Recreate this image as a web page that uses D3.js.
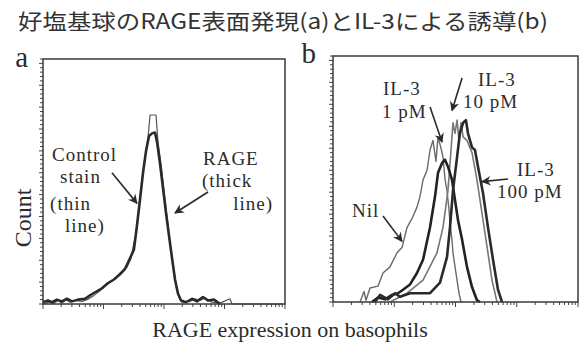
<!DOCTYPE html>
<html>
<head>
<meta charset="utf-8">
<script src="https://cdn.jsdelivr.net/npm/d3@7"></script>
<style>
  body { margin: 0; background: #fff; }
  svg { display: block; }
  .serif { font-family: "Liberation Serif", "DejaVu Serif", serif; fill: #2b2b2b; }
</style>
</head>
<body>
<svg id="chart" width="579" height="347"></svg>
<script>
// histogram data, x = fluorescence intensity (log), y = count
var ctrlA = [[1.08,0],[1.30,3],[1.46,0],[1.77,4],[2.06,1],[2.40,5],[2.79,2],[3.38,4],[4.41,3],[5.34,5],
  [6.71,9],[8.76,15],[11.0,22],[14.4,27],[18.7,35],[24.4,42],[28.5,52],[31.8,70],[34.3,78],[38.6,110],
  [43.3,140],[48.5,168],[54.4,190],[58.8,216],[73.8,216],[79.6,185],[89.3,160],[100,130],[112,100],
  [126,70],[141,45],[158,22],[177,8],[199,2],[270,3],[325,6],[394,4],[474,7],[619,2],[843,1],[1230,6],[1330,0],[9000,0]];
var rageA = [[1,2],[1.21,4],[1.41,2],[1.70,5],[2.06,3],[2.49,6],[3.01,3],[3.79,5],[4.95,6],[5.99,10],
  [7.53,14],[9.43,18],[11.9,24],[14.9,28],[18.7,34],[22.6,40],[27.3,52],[31.8,62],[35.8,90],[40.2,120],
  [45.0,150],[50.5,175],[56.6,192],[63.4,195],[71.1,196],[76.8,185],[86.1,160],[96.5,132],[108,104],
  [121,78],[136,52],[152,28],[170,12],[191,4],[231,2],[290,6],[351,3],[441,8],[532,4],[670,5],[843,0]];

var nilB = [[2.76,0],[3.21,12],[3.46,2],[4.02,16],[5.43,18],[6.55,33],[8.52,40],[11.1,56],[13.4,62],
  [16.2,85],[19.5,95],[23.5,108],[26.3,120],[29.5,139],[34.3,150],[38.4,173],[42.9,184],[48.0,160],
  [51.8,188],[58.0,175],[62.5,165],[67.4,140],[72.6,127],[78.3,105],[81.3,90],[87.7,70],[91.0,56],
  [98.2,40],[106,25],[114,10],[123,0]];
var pm1B = [[4.33,0],[5.43,5],[7.06,3],[9.19,8],[11.5,10],[13.9,14],[18.1,20],[23.5,33],[29.5,48],
  [38.4,85],[46.3,120],[51.8,147],[60.2,158],[67.4,162],[75.4,154],[87.7,139],[98.2,116],[110,93],
  [128,71],[154,40],[186,17],[224,2],[251,0]];
var pm10B = [[8.52,0],[16.2,10],[29.5,25],[49.9,56],[62.5,85],[75.4,127],[84.5,173],[91.0,204],
  [98.2,192],[106,207],[114,184],[123,204],[133,188],[154,184],[186,170],[224,139],[271,101],
  [327,63],[394,25],[476,0]];
var pm100B = [[4.85,0],[5.85,8],[7.91,3],[10.3,10],[12.4,6],[18.1,10],[38.4,10],[55.8,22],[72.6,51],
  [81.3,85],[91.0,127],[106,165],[118,192],[133,204],[148,207],[160,192],[186,176],[208,173],
  [233,154],[281,124],[339,85],[410,48],[494,14],[574,0]];

// annotation labels [text, x, count, anchor]
var labelsA = [["Control",1.41,163,"start"],["stain",1.91,138,"start"],["(thin",1.31,107,"start"],
  ["line)",2.31,82,"start"],["RAGE",441,159,"start"],["(thick",425,134,"start"],["line)",6340,107,"end"]];
var labelsB = [["IL-3",6.55,236,"start"],["1 pM",6.31,210,"start"],["IL-3",233,246,"start"],
  ["10 pM",133,221,"start"],["IL-3",1010,143,"start"],["100 pM",476,118,"start"],["Nil",2.04,97,"start"]];
// arrows [x0, y0, x1, y1] tail -> head
var arrowsA = [[13.8,150,35.8,115],[534,128,152,104]];
var arrowsB = [[38.4,222,60.2,182],[128,255,87.7,218],[719,140,271,137],[6.55,98,13.4,69]];

var svg = d3.select("#chart");

svg.append("defs").append("marker")
  .attr("id", "head")
  .attr("viewBox", "0 0 10 10")
  .attr("refX", 9).attr("refY", 5)
  .attr("markerWidth", 6).attr("markerHeight", 6)
  .attr("orient", "auto")
  .append("path")
  .attr("d", "M0,0 L10,5 L0,10 L3,5 Z")
  .attr("fill", "#2b2b2b");

svg.append("text")
  .attr("x", 18).attr("y", 29)
  .attr("textLength", 530).attr("lengthAdjust", "spacingAndGlyphs")
  .style("font-family", "'Noto Sans CJK JP', sans-serif")
  .style("font-size", "21px")
  .style("fill", "#333")
  .text("好塩基球のRAGE表面発現(a)とIL-3による誘導(b)");

function panel(box, series, labels, arrows, name) {
  var x = d3.scaleLog().domain([1, 10000]).range([box.x0, box.x1]);
  var y = d3.scaleLinear().domain([0, 280]).range([box.y1, box.y0]);
  var g = svg.append("g");

  // log ticks below the frame
  var xt = x.ticks();
  g.selectAll(".xt").data(xt).enter().append("line")
    .attr("x1", d => x(d)).attr("x2", d => x(d))
    .attr("y1", box.y1).attr("y2", d => box.y1 + (Math.log10(d) % 1 === 0 ? 5 : 3))
    .attr("stroke", "#444").attr("stroke-width", 1);

  // count ticks on the left
  g.selectAll(".yt").data(d3.range(0, 281, 5)).enter().append("line")
    .attr("x1", box.x0).attr("x2", d => box.x0 - (d % 25 === 0 ? 4 : 3))
    .attr("y1", d => y(d)).attr("y2", d => y(d))
    .attr("stroke", "#444").attr("stroke-width", 1);

  var line = d3.line()
    .x(d => x(d[0]))
    .y(d => y(d[1]));

  series.forEach(function (s) {
    g.append("path")
      .datum(s.data)
      .attr("d", line)
      .attr("fill", "none")
      .attr("stroke", s.color)
      .attr("stroke-width", s.w)
      .attr("stroke-linejoin", "round");
  });

  g.append("rect")
    .attr("x", box.x0).attr("y", box.y0)
    .attr("width", box.x1 - box.x0).attr("height", box.y1 - box.y0)
    .attr("fill", "none").attr("stroke", "#3a3a3a").attr("stroke-width", 1.5);

  g.selectAll(".lab").data(labels).enter().append("text")
    .attr("class", "serif")
    .attr("x", d => x(d[1])).attr("y", d => y(d[2]))
    .attr("text-anchor", d => d[3])
    .style("font-size", "19px")
    .style("letter-spacing", "1px")
    .text(d => d[0]);

  g.selectAll(".arr").data(arrows).enter().append("line")
    .attr("x1", d => x(d[0])).attr("y1", d => y(d[1]))
    .attr("x2", d => x(d[2])).attr("y2", d => y(d[3]))
    .attr("stroke", "#2b2b2b").attr("stroke-width", 1.6)
    .attr("marker-end", "url(#head)");

  svg.append("text")
    .attr("class", "serif")
    .attr("x", name.x).attr("y", name.y)
    .attr("text-anchor", "end")
    .style("font-size", "29px")
    .text(name.t);
}

panel({x0: 43, x1: 285, y0: 59, y1: 304},
  [{data: ctrlA, color: "#555", w: 1.2}, {data: rageA, color: "#2a2a2a", w: 2.6}],
  labelsA, arrowsA, {t: "a", x: 28, y: 67});

panel({x0: 333, x1: 578, y0: 56, y1: 302},
  [{data: nilB, color: "#6a6a6a", w: 1.4}, {data: pm10B, color: "#777", w: 1.6},
   {data: pm1B, color: "#222", w: 2.6}, {data: pm100B, color: "#2a2a2a", w: 2.6}],
  labelsB, arrowsB, {t: "b", x: 316, y: 63});

svg.append("text")
  .attr("class", "serif")
  .attr("transform", "translate(31,218) rotate(-90)")
  .attr("text-anchor", "middle")
  .style("font-size", "24px")
  .text("Count");

svg.append("text")
  .attr("class", "serif")
  .attr("x", 290).attr("y", 337)
  .attr("text-anchor", "middle")
  .style("font-size", "22px")
  .text("RAGE expression on basophils");
</script>
</body>
</html>
